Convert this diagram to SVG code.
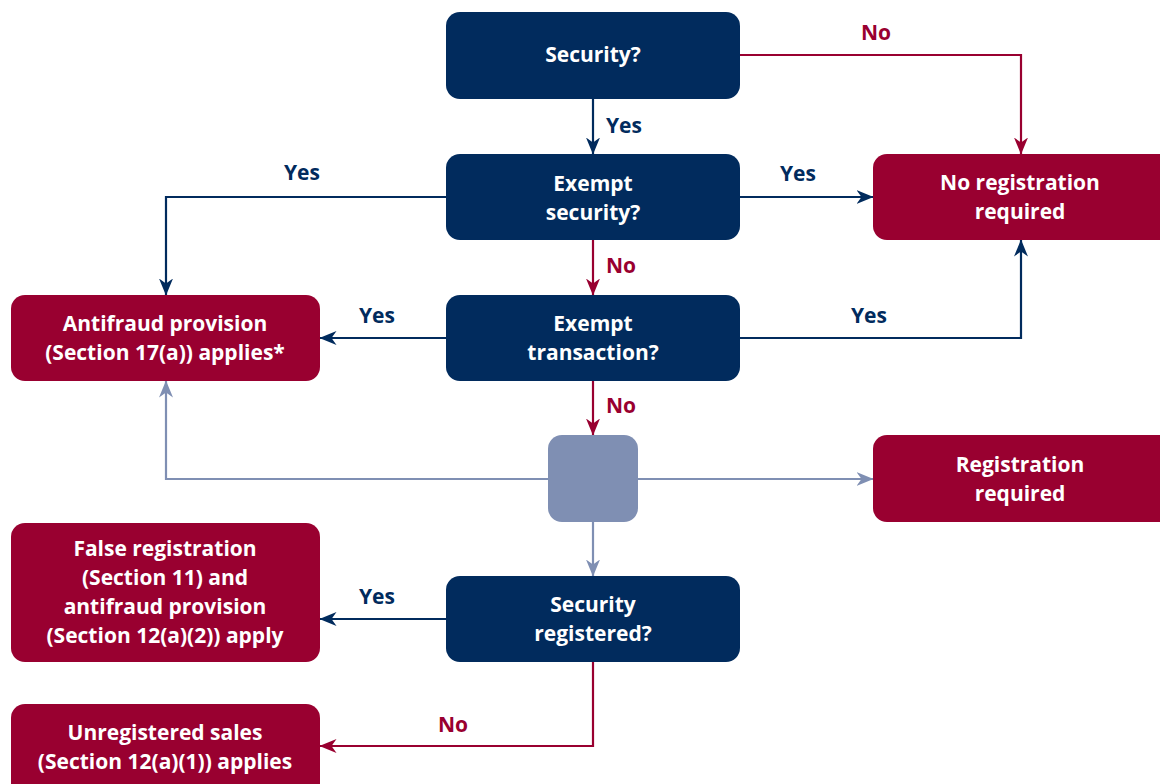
<svg xmlns="http://www.w3.org/2000/svg" width="1160" height="784" viewBox="0 0 1160 784">
  <defs>
    <style>
      .navy { fill: #012b5d; }
      .red { fill: #990030; }
      .slate { fill: #7f8fb3; }
      .box-text { font-family: "Open Sans", "Liberation Sans", sans-serif; font-weight: 700; font-size: 21px; fill: #ffffff; text-anchor: middle; }
      .lbl { font-family: "Open Sans", "Liberation Sans", sans-serif; font-weight: 700; font-size: 21px; text-anchor: middle; }
      .lbl-navy { fill: #012b5d; }
      .lbl-red { fill: #990030; }
      .ln { fill: none; stroke-width: 2.2; }
      .ln-navy { stroke: #012b5d; }
      .ln-red { stroke: #990030; }
      .ln-slate { stroke: #7f8fb3; }
    </style>
    <marker id="arrow-navy" viewBox="0 0 17 14" refX="16.5" refY="7" markerWidth="17" markerHeight="14" markerUnits="userSpaceOnUse" orient="auto">
      <path d="M0,0 L17,7 L0,14 L5,7 Z" fill="#012b5d"/>
    </marker>
    <marker id="arrow-red" viewBox="0 0 17 14" refX="16.5" refY="7" markerWidth="17" markerHeight="14" markerUnits="userSpaceOnUse" orient="auto">
      <path d="M0,0 L17,7 L0,14 L5,7 Z" fill="#990030"/>
    </marker>
    <marker id="arrow-slate" viewBox="0 0 17 14" refX="16.5" refY="7" markerWidth="17" markerHeight="14" markerUnits="userSpaceOnUse" orient="auto">
      <path d="M0,0 L17,7 L0,14 L5,7 Z" fill="#7f8fb3"/>
    </marker>
  </defs>

  <rect width="1160" height="784" fill="#ffffff"/>

  <!-- connectors -->
  <g id="connectors">
    <path class="ln ln-navy" d="M593,99 V154" marker-end="url(#arrow-navy)"/>
    <path class="ln ln-red" d="M740,55 H1021 V154" marker-end="url(#arrow-red)"/>
    <path class="ln ln-navy" d="M446,197 H166 V295" marker-end="url(#arrow-navy)"/>
    <path class="ln ln-navy" d="M740,197 H873" marker-end="url(#arrow-navy)"/>
    <path class="ln ln-red" d="M593,240 V295" marker-end="url(#arrow-red)"/>
    <path class="ln ln-navy" d="M446,338 H320" marker-end="url(#arrow-navy)"/>
    <path class="ln ln-navy" d="M740,338 H1021 V240" marker-end="url(#arrow-navy)"/>
    <path class="ln ln-red" d="M593,381 V435" marker-end="url(#arrow-red)"/>
    <path class="ln ln-slate" d="M548,479 H166 V381" marker-end="url(#arrow-slate)"/>
    <path class="ln ln-slate" d="M638,479 H873" marker-end="url(#arrow-slate)"/>
    <path class="ln ln-slate" d="M593,522 V576" marker-end="url(#arrow-slate)"/>
    <path class="ln ln-navy" d="M446,619 H320" marker-end="url(#arrow-navy)"/>
    <path class="ln ln-red" d="M593,662 V746 H320" marker-end="url(#arrow-red)"/>

    <text class="lbl lbl-navy" x="624" y="133">Yes</text>
    <text class="lbl lbl-red" x="876" y="40">No</text>
    <text class="lbl lbl-navy" x="302" y="180">Yes</text>
    <text class="lbl lbl-navy" x="798" y="181">Yes</text>
    <text class="lbl lbl-red" x="621" y="273">No</text>
    <text class="lbl lbl-navy" x="377" y="323">Yes</text>
    <text class="lbl lbl-navy" x="869" y="323">Yes</text>
    <text class="lbl lbl-red" x="621" y="413">No</text>
    <text class="lbl lbl-navy" x="377" y="604">Yes</text>
    <text class="lbl lbl-red" x="453" y="732">No</text>
  </g>

  <!-- decision nodes -->
  <g id="node-security">
    <rect class="navy" x="446" y="12" width="294" height="87" rx="14"/>
    <text class="box-text" x="593" y="62">Security?</text>
  </g>
  <g id="node-exempt-security">
    <rect class="navy" x="446" y="154" width="294" height="86" rx="14"/>
    <text class="box-text" x="593" y="191">Exempt</text>
    <text class="box-text" x="593" y="220">security?</text>
  </g>
  <g id="node-exempt-transaction">
    <rect class="navy" x="446" y="295" width="294" height="86" rx="14"/>
    <text class="box-text" x="593" y="331">Exempt</text>
    <text class="box-text" x="593" y="360">transaction?</text>
  </g>
  <g id="node-junction">
    <rect class="slate" x="548" y="435" width="90" height="87" rx="14"/>
  </g>
  <g id="node-security-registered">
    <rect class="navy" x="446" y="576" width="294" height="86" rx="14"/>
    <text class="box-text" x="593" y="612">Security</text>
    <text class="box-text" x="593" y="641">registered?</text>
  </g>

  <!-- outcome nodes -->
  <g id="node-no-registration">
    <rect class="red" x="873" y="154" width="300" height="86" rx="14"/>
    <text class="box-text" x="1020" y="190">No registration</text>
    <text class="box-text" x="1020" y="219">required</text>
  </g>
  <g id="node-antifraud">
    <rect class="red" x="11" y="295" width="309" height="86" rx="14"/>
    <text class="box-text" x="165" y="331">Antifraud provision</text>
    <text class="box-text" x="165" y="360">(Section 17(a)) applies*</text>
  </g>
  <g id="node-registration-required">
    <rect class="red" x="873" y="435" width="300" height="87" rx="14"/>
    <text class="box-text" x="1020" y="472">Registration</text>
    <text class="box-text" x="1020" y="501">required</text>
  </g>
  <g id="node-false-registration">
    <rect class="red" x="11" y="523" width="309" height="139" rx="14"/>
    <text class="box-text" x="165" y="556">False registration</text>
    <text class="box-text" x="165" y="585">(Section 11) and</text>
    <text class="box-text" x="165" y="614">antifraud provision</text>
    <text class="box-text" x="165" y="643">(Section 12(a)(2)) apply</text>
  </g>
  <g id="node-unregistered-sales">
    <rect class="red" x="11" y="704" width="309" height="100" rx="14"/>
    <text class="box-text" x="165" y="740">Unregistered sales</text>
    <text class="box-text" x="165" y="769">(Section 12(a)(1)) applies</text>
  </g>
</svg>
